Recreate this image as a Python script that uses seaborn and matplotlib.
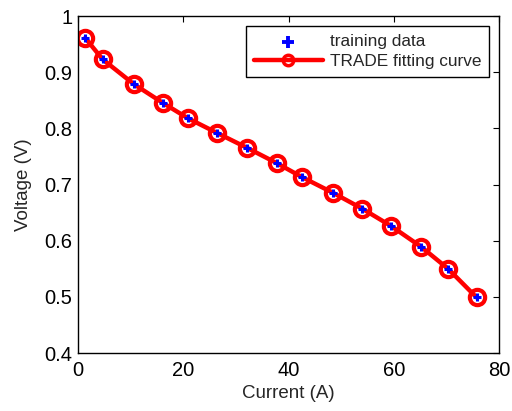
#importing libraries
import numpy as np
import pandas as pd
import matplotlib
matplotlib.use('Agg')
import matplotlib.pyplot as plt
import seaborn as sns

#values
current = [1.4, 4.7, 10.6, 16.2, 20.9, 26.4, 32.2, 37.8, 42.6, 48.5, 54.0, 59.5, 65.2, 70.3, 75.7]
voltage = [0.961, 0.923, 0.879, 0.845, 0.818, 0.792, 0.765, 0.738, 0.713, 0.685, 0.657, 0.626, 0.589, 0.550, 0.499]
df = pd.DataFrame({'Current': current, 'Voltage': voltage})

sns.set_style('white')
plt.rcParams['font.family'] = ['Liberation Sans', 'DejaVu Sans']

fig = plt.figure(figsize=(5.12, 4.11), dpi=100)
ax = fig.add_axes([0.152, 0.141, 0.823, 0.82])

#fitting curve first, training data plotted on top
sns.lineplot(data=df, x='Current', y='Voltage', ax=ax, color='red', linewidth=3.2,
             marker='o', markersize=11, markerfacecolor='none', markeredgecolor='red',
             markeredgewidth=3, label='TRADE fitting curve')
sns.scatterplot(data=df, x='Current', y='Voltage', ax=ax, color='blue', marker='+',
                s=40, linewidth=2.2, label='training data', zorder=5)

ax.set_xlim(0, 80)
ax.set_ylim(0.4, 1)
ax.set_xticks([0, 20, 40, 60, 80])
ax.set_yticks([0.4, 0.5, 0.6, 0.7, 0.8, 0.9, 1.0])
ax.set_yticklabels(['0.4', '0.5', '0.6', '0.7', '0.8', '0.9', '1'])
ax.tick_params(direction='in', length=4, width=0.8, labelsize=14.5, top=True, right=True,
               labeltop=False, labelright=False, colors='black')
ax.tick_params(axis='x', pad=6)
ax.tick_params(axis='y', pad=4)
for s in ax.spines.values():
    s.set_color('black')
    s.set_linewidth(1)
ax.set_xlabel('Current (A)', fontsize=13.5, labelpad=3)
ax.set_ylabel('Voltage (V)', fontsize=13.5, labelpad=9)

h, l = ax.get_legend_handles_labels()
leg = ax.legend([h[1], h[0]], [l[1], l[0]], loc='upper right', fontsize=12.4,
                frameon=True, fancybox=False, edgecolor='black', framealpha=1,
                borderaxespad=0.6, handlelength=4.0, handletextpad=0.4,
                labelspacing=0.28, borderpad=0.45)
leg.get_frame().set_linewidth(1)
#smaller circle in the legend like the reference
leg.legend_handles[1].set_markersize(7.5)
leg.legend_handles[1].set_markeredgewidth(2.5)
leg.legend_handles[0].set_sizes([70])
leg.legend_handles[0].set_linewidth(2.8)

plt.savefig('out.png', dpi=100)
